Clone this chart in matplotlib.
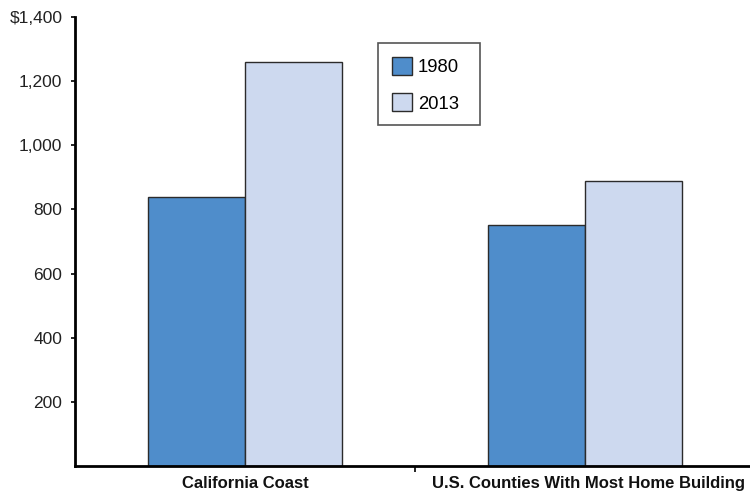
import matplotlib
matplotlib.use("Agg")
import matplotlib.pyplot as plt
from matplotlib.patches import Rectangle
import numpy as np

categories = ["California Coast", "U.S. Counties With Most Home Building"]
series_names = ["1980", "2013"]
values_1980 = [838, 752]
values_2013 = [1258, 887]
yticks = [200, 400, 600, 800, 1000, 1200, 1400]
ytick_labels = ["200", "400", "600", "800", "1,000", "1,200", "$1,400"]

plt.rcParams['font.family'] = ['Liberation Sans', 'DejaVu Sans']

fig = plt.figure(figsize=(7.5, 4.97), dpi=100)
ax = fig.add_axes([0.1, 0.0624, 0.9, 0.9036])

x = np.arange(len(categories))
w = 0.286
ax.bar(x - w/2, values_1980, w, color="#4F8DCB", edgecolor="#2b2b2b", linewidth=1.0, label=series_names[0])
ax.bar(x + w/2, values_2013, w, color="#CDD9EF", edgecolor="#2b2b2b", linewidth=1.0, label=series_names[1])

ax.set_xlim(-0.5, 1.485)
ax.set_ylim(0, 1400)
ax.set_yticks(yticks)
ax.set_yticklabels(ytick_labels, fontsize=12.5, color="#222222")
ax.tick_params(axis='y', length=3, width=1.2, pad=6)
ax.set_xticks([0.5])
ax.set_xticklabels([""])
ax.tick_params(axis='x', length=4, width=1.2, direction='out')
for i, c in enumerate(categories):
    ax.text(x[i] + (0.0 if i == 0 else 0.01), -30, c, ha='center', va='top', fontsize=12,
            fontweight='bold', color="#111111")

for s in ['top', 'right']:
    ax.spines[s].set_visible(False)
ax.spines['left'].set_linewidth(2)
ax.spines['bottom'].set_linewidth(2)

# legend frame drawn as a box in axes coordinates
ax.add_patch(Rectangle((0.449, 0.759), 0.151, 0.183, transform=ax.transAxes,
                       facecolor="white", edgecolor="#555555", linewidth=1.2, zorder=4))
leg = ax.legend(loc='upper left', bbox_to_anchor=(0.449, 0.942), borderaxespad=0,
                fontsize=13.3, frameon=False,
                handlelength=1.1, handleheight=1.1, borderpad=0.75, labelspacing=0.95,
                handletextpad=0.3)
leg.set_zorder(5)

fig.savefig("out.png", dpi=100)
